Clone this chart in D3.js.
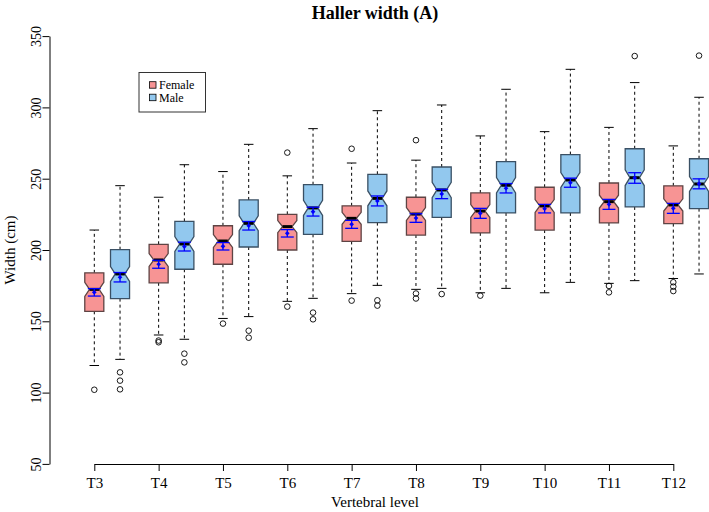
<!DOCTYPE html>
<html>
<head>
<meta charset="utf-8">
<script src="https://cdn.jsdelivr.net/npm/d3@7"></script>
<style>
  html, body { margin: 0; padding: 0; background: #fff; }
  svg { display: block; }
  text { font-family: "Liberation Serif", "Times New Roman", serif; fill: #000; }
</style>
</head>
<body>
<svg id="chart" width="709" height="512"></svg>
<script>
// ---- data ----
const levels = ["T3","T4","T5","T6","T7","T8","T9","T10","T11","T12"];
const sexes = ["Female","Male"];

const femaleLow    = [119, 140.4, 152, 164, 169.4, 172.4, 170, 170, 176.6, 180];
const femaleQ1     = [157, 177, 190, 200, 206, 210.5, 212, 214, 219, 218.5];
const femaleMedian = [172.4, 193, 206.3, 216.4, 222.2, 225.2, 227.3, 230.9, 233.9, 231.6];
const femaleQ3     = [184, 204, 217, 225, 231, 237, 240, 244, 247, 245];
const femaleHigh   = [214, 237, 255, 252, 261, 263, 280, 283, 286, 273];
const femaleMean   = [170.3, 190, 202.6, 211.7, 218, 222.4, 225.7, 229, 232, 229.2];
const femaleCI     = [2.6, 2.8, 2.6, 2.6, 2.8, 3.0, 3.5, 3.0, 3.5, 3.5];
const femaleNotch  = [4.9, 4.5, 4.5, 4.2, 4.2, 4.5, 4.5, 4.5, 4.5, 4.3];
const femaleOut    = [[102], [136.5, 135.3], [148.4], [268.3, 160.3], [271, 164.5], [277, 169.5, 166], [168], [], [174.8, 170.3], [177.4, 174.3, 171.2]];

const maleLow    = [123.3, 137.4, 153.3, 166.1, 175.2, 173.1, 173.1, 177.3, 178.5, 183.2];
const maleQ1     = [165.9, 186.5, 202.1, 211, 219.2, 222.9, 226, 226, 230.2, 229];
const maleMedian = [183.2, 204.2, 218.7, 229.5, 236.2, 242.1, 245.4, 249.1, 250.7, 246.3];
const maleQ3     = [200.2, 220.1, 235.1, 245.8, 253.1, 258.2, 262, 266.9, 271, 264];
const maleHigh   = [245.1, 259.8, 274.1, 285.1, 297.7, 301.7, 312.7, 326.7, 317.4, 307.1];
const maleMean   = [180.9, 202.4, 217, 226.9, 234.4, 239.3, 243.3, 247.2, 250.5, 246.4];
const maleCI     = [3.3, 3.1, 3.0, 3.1, 3.5, 3.3, 3.3, 3.2, 3.7, 3.5];
const maleNotch  = [5.2, 5.2, 5.2, 5.3, 5.2, 5.4, 5.4, 5.2, 5.5, 5.2];
const maleOut    = [[114.2, 108.4, 102.3], [127.3, 121.2], [143.4, 138.5], [156.1, 151.4], [164.7, 161], [169.1], [], [], [336], [336.3]];

const yTicks = [50, 100, 150, 200, 250, 300, 350];

// ---- styles ----
const fills   = { Female: "#F79494", Male: "#92C8EE" };
const borders = { Female: "#5e4444", Male: "#3a5064" };

// ---- build box records ----
function build(sex, low, q1, med, q3, high, mean, ci, notch, out) {
  return levels.map((lv, i) => ({
    sex, level: lv, i,
    pos: 1 + 2.5 * i + (sex === "Male" ? 1 : 0),
    low: low[i], q1: q1[i], med: med[i], q3: q3[i], high: high[i],
    mean: mean[i], ci: ci[i], notch: notch[i], out: out[i]
  }));
}
const boxes = build("Female", femaleLow, femaleQ1, femaleMedian, femaleQ3, femaleHigh, femaleMean, femaleCI, femaleNotch, femaleOut)
  .concat(build("Male", maleLow, maleQ1, maleMedian, maleQ3, maleHigh, maleMean, maleCI, maleNotch, maleOut));

// ---- scales ----
const svg = d3.select("#chart");
const x = d3.scaleLinear().domain([1, 23.5]).range([94.3, 673.3]);
const y = d3.scaleLinear().domain([50, 350]).range([463.9, 36.1]);
const unit = x(2) - x(1);
const hw = unit * 0.37;      // box half width
const capHw = hw / 2;        // staple half width
const ciHw = hw * 0.68;      // mean CI cap half width

// ---- axes ----
const yAxis = svg.append("g").attr("transform", "translate(49.5,0)")
  .call(d3.axisLeft(y).tickValues(yTicks).tickSize(7).tickSizeOuter(0).tickFormat(d3.format("d")));
yAxis.selectAll("path, line").attr("stroke", "#000");
yAxis.selectAll("text")
  .attr("font-size", 14)
  .attr("font-family", "Liberation Serif, Times New Roman, serif")
  .attr("text-anchor", "middle")
  .attr("x", null).attr("dy", null)
  .attr("transform", "translate(-9,0) rotate(-90)");

const xAxis = svg.append("g").attr("transform", "translate(0,464)")
  .call(d3.axisBottom(x).tickValues(levels.map((d, i) => 1 + 2.5 * i))
    .tickFormat((d, i) => levels[i]).tickSize(7).tickSizeOuter(0));
xAxis.selectAll("path, line").attr("stroke", "#000");
xAxis.selectAll("text")
  .attr("font-size", 15)
  .attr("font-family", "Liberation Serif, Times New Roman, serif")
  .attr("y", 24).attr("dy", null);

// ---- boxes ----
const g = svg.append("g");
const bx = g.selectAll("g.box").data(boxes).join("g").attr("class", "box");

// whiskers (dashed)
bx.append("line")
  .attr("x1", d => x(d.pos)).attr("x2", d => x(d.pos))
  .attr("y1", d => y(d.q3)).attr("y2", d => y(d.high))
  .attr("stroke", "#000").attr("stroke-dasharray", "3,3");
bx.append("line")
  .attr("x1", d => x(d.pos)).attr("x2", d => x(d.pos))
  .attr("y1", d => y(d.q1)).attr("y2", d => y(d.low))
  .attr("stroke", "#000").attr("stroke-dasharray", "3,3");
// staples
bx.append("line")
  .attr("x1", d => x(d.pos) - capHw).attr("x2", d => x(d.pos) + capHw)
  .attr("y1", d => y(d.high)).attr("y2", d => y(d.high))
  .attr("stroke", "#000");
bx.append("line")
  .attr("x1", d => x(d.pos) - capHw).attr("x2", d => x(d.pos) + capHw)
  .attr("y1", d => y(d.low)).attr("y2", d => y(d.low))
  .attr("stroke", "#000");

// notched box
bx.append("path")
  .attr("d", d => {
    const cx = x(d.pos);
    const pts = [
      [cx - hw, y(d.q1)], [cx - hw, y(d.med - d.notch)], [cx - hw / 2, y(d.med)],
      [cx - hw, y(d.med + d.notch)], [cx - hw, y(d.q3)], [cx + hw, y(d.q3)],
      [cx + hw, y(d.med + d.notch)], [cx + hw / 2, y(d.med)], [cx + hw, y(d.med - d.notch)],
      [cx + hw, y(d.q1)]
    ];
    return d3.line()(pts) + "Z";
  })
  .attr("fill", d => fills[d.sex])
  .attr("stroke", d => borders[d.sex])
  .attr("stroke-width", 1.3);

// median
bx.append("line")
  .attr("x1", d => x(d.pos) - hw / 2).attr("x2", d => x(d.pos) + hw / 2)
  .attr("y1", d => y(d.med)).attr("y2", d => y(d.med))
  .attr("stroke", "#000").attr("stroke-width", 3);

// mean with CI (blue)
bx.append("line")
  .attr("x1", d => x(d.pos)).attr("x2", d => x(d.pos))
  .attr("y1", d => y(d.mean - d.ci)).attr("y2", d => y(d.mean + d.ci))
  .attr("stroke", "#0000ff").attr("stroke-width", 1.3);
bx.append("line")
  .attr("x1", d => x(d.pos) - ciHw).attr("x2", d => x(d.pos) + ciHw)
  .attr("y1", d => y(d.mean - d.ci)).attr("y2", d => y(d.mean - d.ci))
  .attr("stroke", "#0000ff").attr("stroke-width", 1.3);
bx.append("line")
  .attr("x1", d => x(d.pos) - ciHw).attr("x2", d => x(d.pos) + ciHw)
  .attr("y1", d => y(d.mean + d.ci)).attr("y2", d => y(d.mean + d.ci))
  .attr("stroke", "#0000ff").attr("stroke-width", 1.3);
bx.append("path")
  .attr("transform", d => `translate(${x(d.pos)},${y(d.mean)})`)
  .attr("d", d3.symbol().type(d3.symbolDiamond2).size(14))
  .attr("fill", "#0000ff");

// outliers
bx.selectAll("circle").data(d => d.out.map(v => ({ v, pos: d.pos }))).join("circle")
  .attr("cx", d => x(d.pos)).attr("cy", d => y(d.v)).attr("r", 2.8)
  .attr("fill", "none").attr("stroke", "#000").attr("stroke-width", 0.9);

// ---- titles ----
svg.append("text").attr("x", 375).attr("y", 19).attr("text-anchor", "middle")
  .attr("font-size", 18).attr("font-weight", "bold").text("Haller width (A)");
svg.append("text").attr("x", 375).attr("y", 507).attr("text-anchor", "middle")
  .attr("font-size", 15).text("Vertebral level");
svg.append("text").attr("transform", "translate(15,250) rotate(-90)").attr("text-anchor", "middle")
  .attr("font-size", 15).text("Width (cm)");

// ---- legend ----
const lg = svg.append("g");
lg.append("rect").attr("x", 139).attr("y", 72.5).attr("width", 66.5).attr("height", 39.5)
  .attr("fill", "#fff").attr("stroke", "#333").attr("stroke-width", 1);
sexes.forEach((s, i) => {
  const cy = 85 + i * 12.5;
  lg.append("rect").attr("x", 149.5).attr("y", cy - 3.3).attr("width", 6.5).attr("height", 6.5)
    .attr("fill", fills[s]).attr("stroke", "#000").attr("stroke-width", 0.8);
  lg.append("text").attr("x", 159).attr("y", cy + 4).attr("font-size", 12).text(s);
});
</script>
</body>
</html>
